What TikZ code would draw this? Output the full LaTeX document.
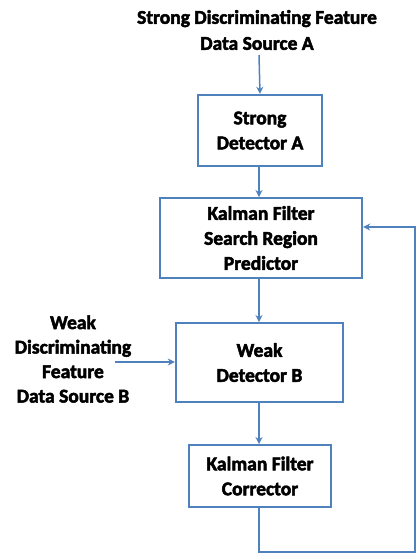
\documentclass[tikz,border=0pt]{standalone}
\usepackage{fontspec}
\setmainfont{Carlito}
\newfontfamily\heavy[BoldFeatures={FakeBold=2.5}]{Carlito}
\usetikzlibrary{arrows.meta}
\definecolor{lineblue}{HTML}{4F81BD}
\tikzset{
  box/.style={draw=lineblue, line width=2.4pt, fill=white, align=center, inner sep=0pt,
    font=\heavy\bfseries\fontsize{19.5}{25}\selectfont},
  lbl/.style={align=center, inner sep=0pt, font=\heavy\bfseries\fontsize{19.5}{26}\selectfont},
  conn/.style={draw=lineblue, line width=1.5pt, -{Stealth[length=7pt,width=7pt]}}
}
\begin{document}
\begin{tikzpicture}[x=1pt,y=-1pt]
\useasboundingbox (0,0) rectangle (417,555);
\node[lbl] (srcA) at (257,30) {Strong Discriminating Feature\\Data Source A};
\node[box, minimum width=124pt, minimum height=71pt] (detA) at (260,130.5) {Strong\\Detector A};
\node[box, minimum width=202pt, minimum height=80pt] (pred) at (261,238) {Kalman Filter\\Search Region\\Predictor};
\node[box, minimum width=167pt, minimum height=79pt] (detB) at (259.5,362.5) {Weak\\Detector B};
\node[box, minimum width=142pt, minimum height=62pt] (corr) at (260,476) {Kalman Filter\\Corrector};
\node[lbl, font=\heavy\bfseries\fontsize{19.5}{24.5}\selectfont] (srcB) at (73,359) {Weak\\Discriminating\\Feature\\Data Source B};
\coordinate (fb1) at (259,552);
\coordinate (fb2) at (415,552);
\coordinate (fb3) at (415,227);
\coordinate (srcBend) at (115,362);
\draw[conn] (259,55) -- (detA.north);
\draw[conn] (detA.south -| 259,0) -- (259,197);
\draw[conn] (259,279) -- (259,322);
\draw[conn] (srcBend) -- (detB.west |- srcBend);
\draw[conn] (259,403) -- (259,444);
\draw[conn] (corr.south -| fb1) -- (fb1) -- (fb2) -- (fb3) -- (pred.east |- fb3);
\end{tikzpicture}
\end{document}
